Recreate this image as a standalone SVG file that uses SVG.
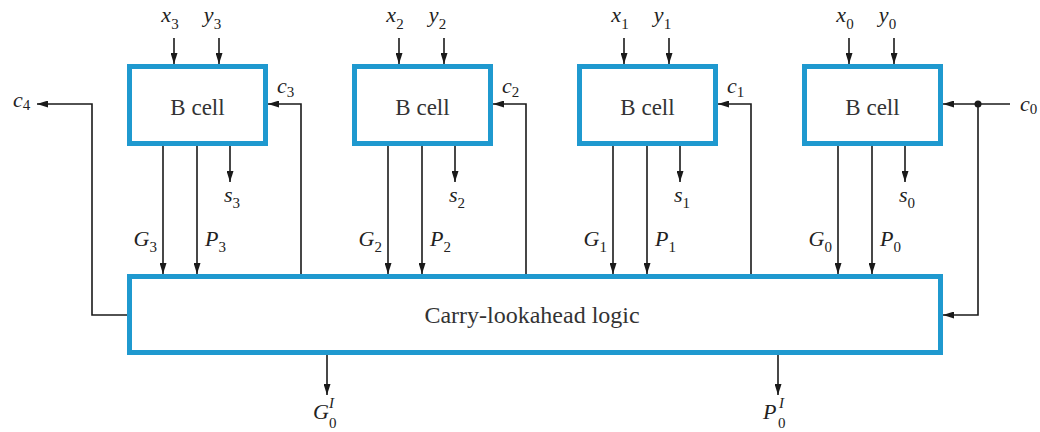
<svg xmlns="http://www.w3.org/2000/svg" width="1040" height="432" viewBox="0 0 1040 432">
  <style>
    .box { fill: #ffffff; stroke: #1f99cf; stroke-width: 5; }
    .wire { fill: none; stroke: #1a1a1a; stroke-width: 1.6; }
    .arr { marker-end: url(#ah); }
    text { font-family: 'Times New Roman', 'Liberation Serif', 'DejaVu Serif', serif; }
    .name { font-size: 23px; fill: #333; text-anchor: middle; }
    .lab { font-size: 22px; font-style: italic; fill: #222; }
    .sub { font-style: normal; font-size: 15px; }
    .sm { font-size: 15px; fill: #222; }
  </style>
  <defs>
    <marker id="ah" markerUnits="userSpaceOnUse" markerWidth="11" markerHeight="7" refX="11" refY="3.5" orient="auto">
      <path d="M0,0 L11,3.5 L0,7 Z" fill="#1a1a1a"/>
    </marker>
  </defs>
  <rect width="1040" height="432" fill="#ffffff"/>

  <g id="cell3">
    <rect class="box" x="129.5" y="66.5" width="136" height="77"/>
    <text class="name" x="197.5" y="115">B cell</text>
  </g>
  <g id="cell2">
    <rect class="box" x="354.5" y="66.5" width="136" height="77"/>
    <text class="name" x="422.5" y="115">B cell</text>
  </g>
  <g id="cell1">
    <rect class="box" x="579.5" y="66.5" width="136" height="77"/>
    <text class="name" x="647.5" y="115">B cell</text>
  </g>
  <g id="cell0">
    <rect class="box" x="804.5" y="66.5" width="136" height="77"/>
    <text class="name" x="872.5" y="115">B cell</text>
  </g>
  <g id="cla">
    <rect class="box" x="129.5" y="276.5" width="811" height="76"/>
    <text class="name" x="532" y="323" style="font-size:24px">Carry-lookahead logic</text>
  </g>

  <g id="connectors">
    <line class="wire arr" x1="174" y1="38" x2="174" y2="64"/>
    <line class="wire arr" x1="219" y1="38" x2="219" y2="64"/>
    <line class="wire arr" x1="399" y1="38" x2="399" y2="64"/>
    <line class="wire arr" x1="444" y1="38" x2="444" y2="64"/>
    <line class="wire arr" x1="624" y1="38" x2="624" y2="64"/>
    <line class="wire arr" x1="669" y1="38" x2="669" y2="64"/>
    <line class="wire arr" x1="849" y1="38" x2="849" y2="64"/>
    <line class="wire arr" x1="894" y1="38" x2="894" y2="64"/>
    <line class="wire arr" x1="230" y1="146" x2="230" y2="182"/>
    <line class="wire arr" x1="455" y1="146" x2="455" y2="182"/>
    <line class="wire arr" x1="680" y1="146" x2="680" y2="182"/>
    <line class="wire arr" x1="905" y1="146" x2="905" y2="182"/>
    <line class="wire arr" x1="163" y1="146" x2="163" y2="274"/>
    <line class="wire arr" x1="197" y1="146" x2="197" y2="274"/>
    <line class="wire arr" x1="388" y1="146" x2="388" y2="274"/>
    <line class="wire arr" x1="422" y1="146" x2="422" y2="274"/>
    <line class="wire arr" x1="613" y1="146" x2="613" y2="274"/>
    <line class="wire arr" x1="647" y1="146" x2="647" y2="274"/>
    <line class="wire arr" x1="838" y1="146" x2="838" y2="274"/>
    <line class="wire arr" x1="872" y1="146" x2="872" y2="274"/>
    <polyline class="wire arr" points="301,274 301,104 268,104"/>
    <polyline class="wire arr" points="526,274 526,104 493,104"/>
    <polyline class="wire arr" points="751,274 751,104 718,104"/>
    <polyline class="wire arr" points="127,315 92,315 92,104 37,104"/>
    <line class="wire arr" x1="1010" y1="104" x2="943" y2="104"/>
    <polyline class="wire arr" points="978,104 978,315 943,315"/>
    <circle cx="978" cy="104" r="3.5" fill="#1a1a1a"/>
    <line class="wire arr" x1="327" y1="355" x2="327" y2="395"/>
    <line class="wire arr" x1="778" y1="355" x2="778" y2="395"/>
  </g>

  <g id="labels">
    <text class="lab" x="170" y="22" text-anchor="middle">x<tspan class="sub" dy="7">3</tspan></text>
    <text class="lab" x="212.5" y="22" text-anchor="middle">y<tspan class="sub" dy="7">3</tspan></text>
    <text class="lab" x="395" y="22" text-anchor="middle">x<tspan class="sub" dy="7">2</tspan></text>
    <text class="lab" x="437.5" y="22" text-anchor="middle">y<tspan class="sub" dy="7">2</tspan></text>
    <text class="lab" x="620" y="22" text-anchor="middle">x<tspan class="sub" dy="7">1</tspan></text>
    <text class="lab" x="662.5" y="22" text-anchor="middle">y<tspan class="sub" dy="7">1</tspan></text>
    <text class="lab" x="845" y="22" text-anchor="middle">x<tspan class="sub" dy="7">0</tspan></text>
    <text class="lab" x="887.5" y="22" text-anchor="middle">y<tspan class="sub" dy="7">0</tspan></text>

    <text class="lab" x="232" y="202" text-anchor="middle">s<tspan class="sub" dy="6">3</tspan></text>
    <text class="lab" x="457" y="202" text-anchor="middle">s<tspan class="sub" dy="6">2</tspan></text>
    <text class="lab" x="682" y="202" text-anchor="middle">s<tspan class="sub" dy="6">1</tspan></text>
    <text class="lab" x="907" y="202" text-anchor="middle">s<tspan class="sub" dy="6">0</tspan></text>

    <text class="lab" x="157" y="246" text-anchor="end">G<tspan class="sub" dy="6">3</tspan></text>
    <text class="lab" x="205" y="246">P<tspan class="sub" dy="6">3</tspan></text>
    <text class="lab" x="382" y="246" text-anchor="end">G<tspan class="sub" dy="6">2</tspan></text>
    <text class="lab" x="430" y="246">P<tspan class="sub" dy="6">2</tspan></text>
    <text class="lab" x="607" y="246" text-anchor="end">G<tspan class="sub" dy="6">1</tspan></text>
    <text class="lab" x="655" y="246">P<tspan class="sub" dy="6">1</tspan></text>
    <text class="lab" x="832" y="246" text-anchor="end">G<tspan class="sub" dy="6">0</tspan></text>
    <text class="lab" x="880" y="246">P<tspan class="sub" dy="6">0</tspan></text>

    <text class="lab" x="277" y="93">c<tspan class="sub" dy="4">3</tspan></text>
    <text class="lab" x="502" y="93">c<tspan class="sub" dy="4">2</tspan></text>
    <text class="lab" x="727" y="93">c<tspan class="sub" dy="4">1</tspan></text>
    <text class="lab" x="13" y="107">c<tspan class="sub" dy="3">4</tspan></text>
    <text class="lab" x="1020" y="111">c<tspan class="sub" dy="3">0</tspan></text>

    <text class="lab" x="313" y="419">G</text>
    <text class="sm" x="329" y="408" font-style="italic">I</text>
    <text class="sm" x="329" y="428">0</text>
    <text class="lab" x="763" y="419">P</text>
    <text class="sm" x="779" y="408" font-style="italic">I</text>
    <text class="sm" x="778" y="428">0</text>
  </g>
</svg>
